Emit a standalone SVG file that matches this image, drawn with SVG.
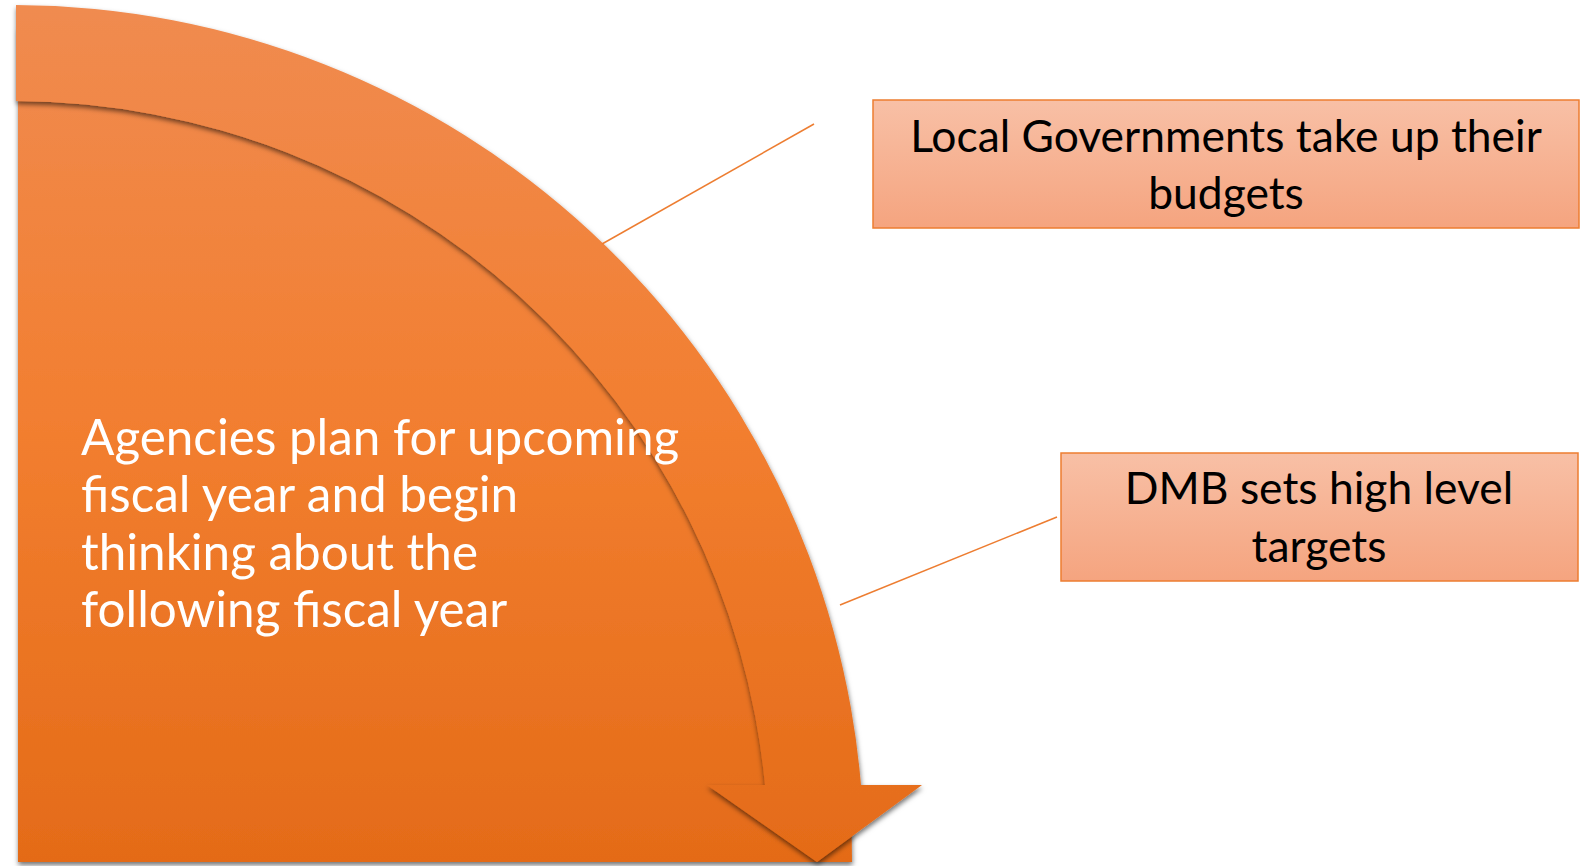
<svg xmlns="http://www.w3.org/2000/svg" width="1581" height="866" viewBox="0 0 1581 866">
  <defs>
    <linearGradient id="orangeGrad" gradientUnits="userSpaceOnUse" x1="0" y1="5" x2="0" y2="862">
      <stop offset="0" stop-color="#F08B50"/>
      <stop offset="0.5" stop-color="#F27E2F"/>
      <stop offset="1" stop-color="#E46B18"/>
    </linearGradient>
    <linearGradient id="boxGrad" x1="0" y1="0" x2="0" y2="1">
      <stop offset="0" stop-color="#F8C0A6"/>
      <stop offset="1" stop-color="#F5A47F"/>
    </linearGradient>
    <filter id="shadow" x="-5%" y="-5%" width="110%" height="110%">
      <feDropShadow dx="0.5" dy="3" stdDeviation="2.5" flood-color="#000000" flood-opacity="0.55"/>
    </filter>
    <style>
      .main { font-family: "Lato", "Liberation Sans", sans-serif; font-size: 49.4px; fill: #FFFFFF; }
      .lbl { font-family: "Lato", "Liberation Sans", sans-serif; font-size: 44.4px; fill: #000000; text-anchor: middle; }
      .box { fill: url(#boxGrad); stroke: #ED7D31; stroke-width: 1.5; }
      .conn { stroke: #ED7D31; stroke-width: 1.5; fill: none; }
    </style>
  </defs>

  <g id="pie">
    <path d="M18,862 L18,28 A834,834 0 0 1 852,862 Z" fill="url(#orangeGrad)" filter="url(#shadow)"/>
  </g>

  <g id="arrow">
    <path d="M16,5 A852,852 0 0 1 861,785 L922,785 L817,862 L707,785 L765,785 A756,756 0 0 0 16,101 Z" fill="url(#orangeGrad)" filter="url(#shadow)"/>
  </g>

  <g id="main-text">
    <text class="main" x="81" y="455">Agencies plan for upcoming</text>
    <text class="main" x="81" y="512">fiscal year and begin</text>
    <text class="main" x="81" y="570">thinking about the</text>
    <text class="main" x="81" y="627">following fiscal year</text>
  </g>

  <g id="connectors">
    <line class="conn" x1="602" y1="244" x2="814" y2="124"/>
    <line class="conn" x1="840" y1="605" x2="1057" y2="517"/>
  </g>

  <g id="node-local">
    <rect class="box" x="873" y="100" width="706" height="128"/>
    <text class="lbl" x="1226" y="152">Local Governments take up their</text>
    <text class="lbl" x="1226" y="209">budgets</text>
  </g>

  <g id="node-dmb">
    <rect class="box" x="1061" y="453" width="517" height="128"/>
    <text class="lbl" x="1319" y="504">DMB sets high level</text>
    <text class="lbl" x="1319" y="562">targets</text>
  </g>
</svg>
